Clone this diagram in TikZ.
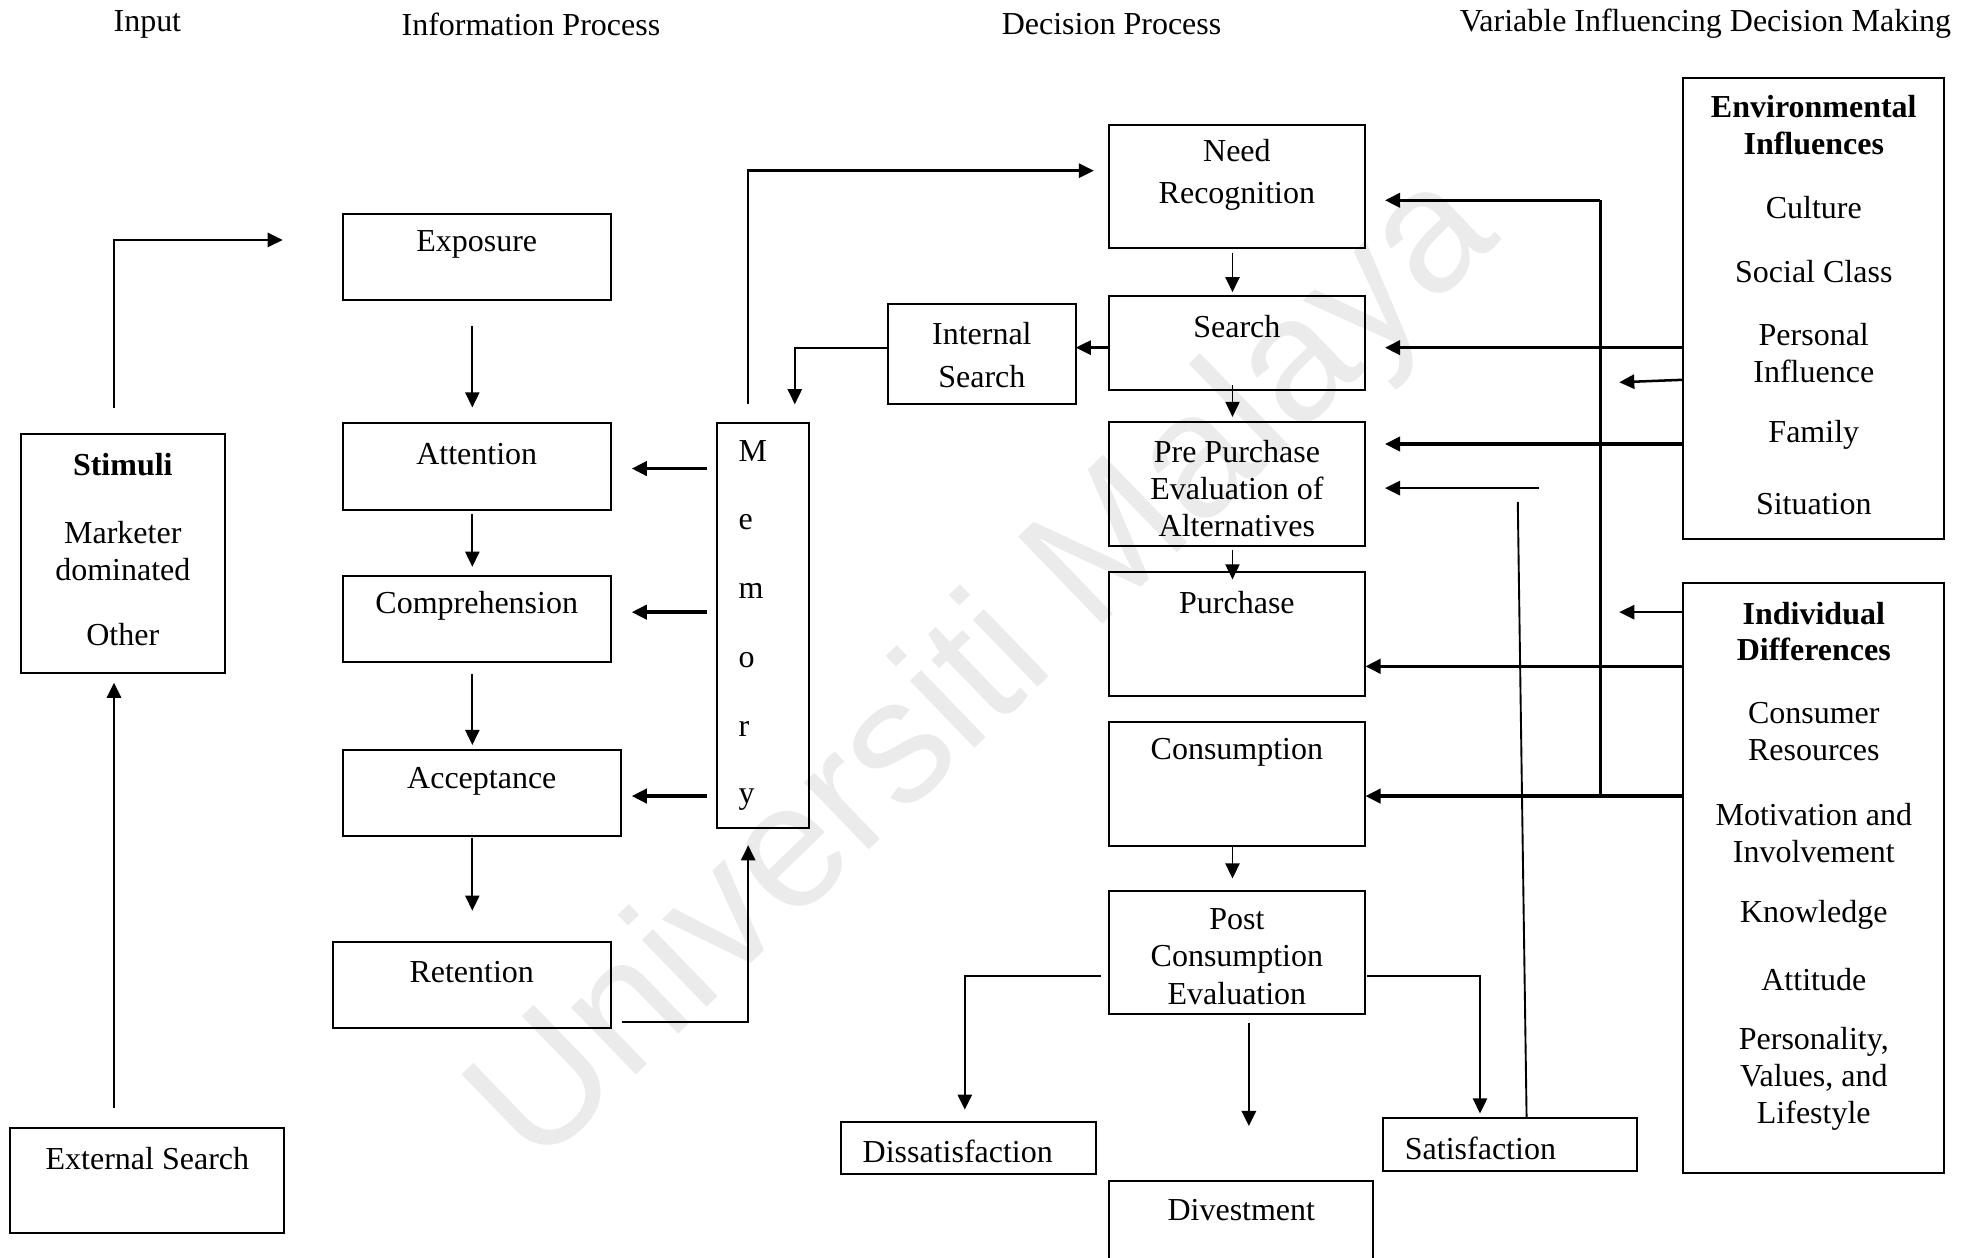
\documentclass[tikz,border=0pt]{standalone}
\usepackage{fontspec}
\setmainfont{Liberation Serif}
\newfontfamily\stampfont{Liberation Sans}
\usetikzlibrary{arrows.meta}

% box whose top-left and bottom-right corners are given
\newcommand\mkbox[5]{%
  \node[box, minimum width={(#4-#2)*0.5pt}, minimum height={(#5-#3)*0.5pt}] (#1) at (#2,#3) {};}

\begin{document}
\begin{tikzpicture}[x=0.5pt,y=-0.5pt,
  box/.style={draw, line width=0.8pt, inner sep=0pt, outer sep=0pt, anchor=north west},
  txt/.style={inner sep=0pt, align=center, font=\fontsize{12.7}{14.7}\selectfont},
  bold/.style={txt, font=\fontsize{12.7}{14.5}\selectfont\bfseries},
  tip/.style={-{Triangle[length=6pt,width=5.6pt]}},
  lnthin/.style={line width=0.75pt},
  lnmid/.style={line width=1pt},
  lnthick/.style={line width=1.4pt},
]
\useasboundingbox (0,0) rectangle (1568,998);
\clip (0,0) rectangle (1568,998);

% background stamp
\node[inner sep=0pt, rotate=44, text=black!8, font=\stampfont\fontsize{70}{80}\selectfont]
  (stamp) at (784,534) {Universiti Malaya};

% column headings
\node[txt] (h-input) at (117,19) {Input};
\node[txt] (h-info) at (421.5,19) {Information Process};
\node[txt] (h-dec) at (882.5,19) {Decision Process};
\node[txt] (h-var) at (1354,19) {Variable Influencing Decision Making};

% ---------- boxes ----------
\mkbox{stimuli}{17}{344.5}{178.5}{534.5}
\mkbox{external}{8}{895.5}{225.5}{978.5}
\mkbox{exposure}{272}{170}{485}{238.5}
\mkbox{attention}{272}{336}{485}{405}
\mkbox{comprehension}{272}{457}{485}{525.5}
\mkbox{acceptance}{272}{595.5}{493}{664}
\mkbox{retention}{264}{748}{485}{816.5}
\mkbox{memory}{569.5}{335.5}{642.5}{657.5}
\mkbox{internal}{705}{241}{854}{321}
\mkbox{need}{880.5}{99}{1084}{196.5}
\mkbox{search}{880.5}{235}{1084}{309.5}
\mkbox{pre}{880.5}{335}{1084}{433.5}
\mkbox{purchase}{880.5}{454.5}{1084}{552.5}
\mkbox{consumption}{880.5}{573.5}{1084}{671.5}
\mkbox{post}{880.5}{707}{1084}{805}
\mkbox{dissat}{668}{890.5}{870}{932}
\mkbox{divest}{880.5}{937.5}{1090}{1012}
\mkbox{sat}{1098}{887.5}{1300}{929.5}
\mkbox{env}{1336.5}{62}{1543}{428}
\mkbox{indiv}{1336.5}{463}{1543}{931}

% ---------- texts ----------
\node[bold] (stimuli-t) at (97.5,369) {Stimuli};
\node[txt] (stimuli-a) at (97.5,437.5) {Marketer\\dominated};
\node[txt] (stimuli-b) at (97.5,503.5) {Other};
\node[txt] (external-t) at (117,920) {External Search};

\node[txt] (exposure-t) at (378.5,194) {Exposure};
\node[txt] (attention-t) at (378.5,360.5) {Attention};
\node[txt] (comprehension-t) at (378.5,481) {Comprehension};
\node[txt] (acceptance-t) at (382.5,620) {Acceptance};
\node[txt] (retention-t) at (374.5,771.5) {Retention};

\node[txt, anchor=base west] (mem-1) at (586,366) {M};
\node[txt, anchor=base west] (mem-2) at (586,420) {e};
\node[txt, anchor=base west] (mem-3) at (586,475) {m};
\node[txt, anchor=base west] (mem-4) at (586,530) {o};
\node[txt, anchor=base west] (mem-5) at (586,585) {r};
\node[txt, anchor=base west] (mem-6) at (586,638) {y};

\node[txt, font=\fontsize{12.7}{17}\selectfont] (internal-t) at (779.5,282) {Internal\\Search};
\node[txt, font=\fontsize{12.7}{16.7}\selectfont] (need-t) at (982,138.5) {Need\\Recognition};
\node[txt] (search-t) at (982,259.5) {Search};
\node[txt] (pre-t) at (982,388) {Pre Purchase\\Evaluation of\\Alternatives};
\node[txt] (purchase-t) at (982,478.5) {Purchase};
\node[txt] (consumption-t) at (982,597.5) {Consumption};
\node[txt] (post-t) at (982,759.5) {Post\\Consumption\\Evaluation};
\node[txt, anchor=west] (dissat-t) at (684.5,914) {Dissatisfaction};
\node[txt] (divest-t) at (985.5,961) {Divestment};
\node[txt, anchor=west] (sat-t) at (1115,911.5) {Satisfaction};

\node[bold] (env-t) at (1440,99.5) {Environmental\\Influences};
\node[txt] (env-1) at (1440,164.5) {Culture};
\node[txt] (env-2) at (1440,215.5) {Social Class};
\node[txt] (env-3) at (1440,280.5) {Personal\\Influence};
\node[txt] (env-4) at (1440,345.5) {Family};
\node[txt] (env-5) at (1440,400.5) {Situation};

\node[bold] (indiv-t) at (1440,501.5) {Individual\\Differences};
\node[txt] (indiv-1) at (1440,581) {Consumer\\Resources};
\node[txt] (indiv-2) at (1440,661) {Motivation and\\Involvement};
\node[txt] (indiv-3) at (1440,726.5) {Knowledge};
\node[txt] (indiv-4) at (1440,777.5) {Attitude};
\node[txt] (indiv-5) at (1440,856.5) {Personality,\\Values, and\\Lifestyle};

% ---------- connector end points ----------
\coordinate (stim-up) at (90.5,324);
\coordinate (expo-in) at (224.5,190.5);
\coordinate (ext-up) at (90.5,879.5);
\coordinate (stim-in) at (90.5,542);
\foreach \n/\a/\b in {ea/259/323.5, ac/408/450, ca/535/591.5, ar/665/723}{
  \coordinate (\n-s) at (375,\a);
  \coordinate (\n-e) at (375,\b);
}
\coordinate (mem-out) at (561.5,0);
\coordinate (mem-tip) at (501.5,0);
\coordinate (ret-out) at (493.5,811.5);
\coordinate (mem-in) at (594,671);
\coordinate (mem-top) at (594,321);
\coordinate (need-in) at (868.5,135.5);
\coordinate (lvl-search) at (0,276);
\coordinate (mem-in2) at (631,321);
\foreach \n/\a/\b in {ns/201/232, sp/305.5/331, pp/436.5/460, cp/672.5/697.5}{
  \coordinate (\n-s) at (978.5,\a);
  \coordinate (\n-e) at (978.5,\b);
}
\coordinate (post-l) at (874,775);
\coordinate (dis-in) at (766,881);
\coordinate (post-b) at (991.5,812);
\coordinate (div-in) at (991.5,894);
\coordinate (post-r) at (1085.5,775);
\coordinate (sat-in) at (1175,884);
\coordinate (fb-bot) at (1212,887.5);
\coordinate (fb-top) at (1205,398.5);
\coordinate (fb-s) at (1221.5,387.5);
\coordinate (fb-e) at (1099.5,387.5);
\coordinate (bus-top) at (1270.5,159);
\coordinate (bus-bot) at (1270.5,632);
\coordinate (tip-col) at (1099.5,0);
\coordinate (short-col) at (1285.5,0);

% ---------- input and information process ----------
\draw[lnmid,tip] (stim-up) |- (expo-in);
\draw[lnmid,tip] (ext-up) -- (stim-in);
\foreach \n in {ea,ac,ca,ar}{\draw[lnthin,tip] (\n-s) -- (\n-e);}
\foreach \y in {372,486,632}{
  \draw[lnthick,tip] (mem-out |- 0,\y) -- (mem-tip |- 0,\y);
}
\draw[lnmid,tip] (ret-out) -| (mem-in);
\draw[lnmid,tip] (mem-top) |- (need-in);

% ---------- decision process ----------
\draw[lnmid,tip] (search.west |- lvl-search) -- (internal.east |- lvl-search);
\draw[lnthin,tip] (internal.west |- lvl-search) -| (mem-in2);
\foreach \n in {ns,sp,pp,cp}{\draw[lnthin,tip] (\n-s) -- (\n-e);}
\draw[lnmid,tip] (post-l) -| (dis-in);
\draw[lnmid,tip] (post-b) -- (div-in);
\draw[lnmid,tip] (post-r) -| (sat-in);
\draw[lnthin] (fb-bot) -- (fb-top);
\draw[lnmid,tip] (fb-s) -- (fb-e);

% ---------- influencing variables ----------
\draw[lnmid] (bus-top) -- (bus-bot);
\draw[lnthick,tip] (bus-top) -- (tip-col |- bus-top);
\draw[lnthick,tip] (env.west |- 0,276) -- (tip-col |- 0,276);
\draw[lnmid,tip] (env.west |- 0,301.5) -- (short-col |- 0,303.5);
\draw[lnthick,tip] (env.west |- 0,352.5) -- (tip-col |- 0,352.5);
\draw[lnmid,tip] (indiv.west |- 0,486) -- (short-col |- 0,486);
\draw[lnthick,tip] (indiv.west |- 0,529) -- (purchase.east |- 0,529);
\draw[lnthick,tip] (indiv.west |- 0,632) -- (consumption.east |- 0,632);

\end{tikzpicture}
\end{document}
